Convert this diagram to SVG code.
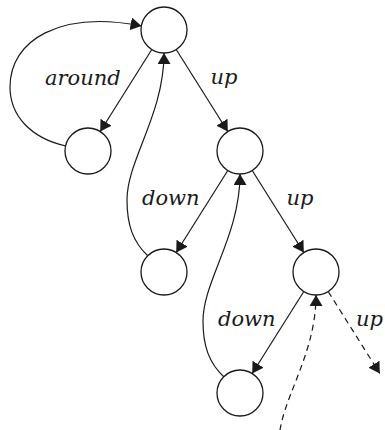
<svg xmlns="http://www.w3.org/2000/svg" width="385" height="430" viewBox="0 0 385 430">
<style>
.node{fill:#fff;stroke:#1a1a1a;stroke-width:1.3}
.edge{fill:none;stroke:#1a1a1a;stroke-width:1.2;marker-end:url(#arr)}
.dash{stroke-dasharray:6,4.5}
.lbl{font-family:"DejaVu Serif",serif;font-style:italic;font-size:21px;fill:#1a1a1a}
</style>
<defs>
<marker id="arr" markerUnits="userSpaceOnUse" markerWidth="12" markerHeight="13" refX="11" refY="6.5" orient="auto" viewBox="0 0 12 13">
<path d="M0,0 L11,6.5 L0,13 z" fill="#1a1a1a" stroke="none"/>
</marker>
</defs>
<rect width="385" height="430" fill="#fff"/>
<g id="connectors">
<path class="edge" d="M66,146 C30,138 10,115 10,87 C10,40 60,10 141.5,26"/>
<path class="edge" d="M151.8,49.5 L100.2,131.5"/>
<path class="edge" d="M176.2,49.5 L227.8,131.5"/>
<path class="edge" d="M148,256 C133,242 127,225 127,200 C127,160 164,115 164,53"/>
<path class="edge" d="M227.8,170.5 L176.2,252.5"/>
<path class="edge" d="M252.2,170.5 L303.8,252.5"/>
<path class="edge" d="M224,377 C209,363 203,346 203,321 C203,281 240,236 240,174"/>
<path class="edge" d="M303.8,291.5 L252.2,373.5"/>
<path class="edge dash" d="M328.2,291.5 L379.8,373.5"/>
<path class="edge dash" d="M300,498 C285,484 279,467 279,442 C279,402 316,357 316,295"/>
</g>
<g id="labels">
<text class="lbl" x="45" y="85">around</text>
<text class="lbl" x="210.5" y="84">up</text>
<text class="lbl" x="142" y="205">down</text>
<text class="lbl" x="286.5" y="205">up</text>
<text class="lbl" x="218" y="326">down</text>
<text class="lbl" x="356" y="326">up</text>
</g>
<g id="nA"><circle class="node" cx="164" cy="30" r="23"/></g>
<g id="nB"><circle class="node" cx="88" cy="151" r="23"/></g>
<g id="nC"><circle class="node" cx="240" cy="151" r="23"/></g>
<g id="nD"><circle class="node" cx="164" cy="272" r="23"/></g>
<g id="nE"><circle class="node" cx="316" cy="272" r="23"/></g>
<g id="nF"><circle class="node" cx="240" cy="393" r="23"/></g>
</svg>
